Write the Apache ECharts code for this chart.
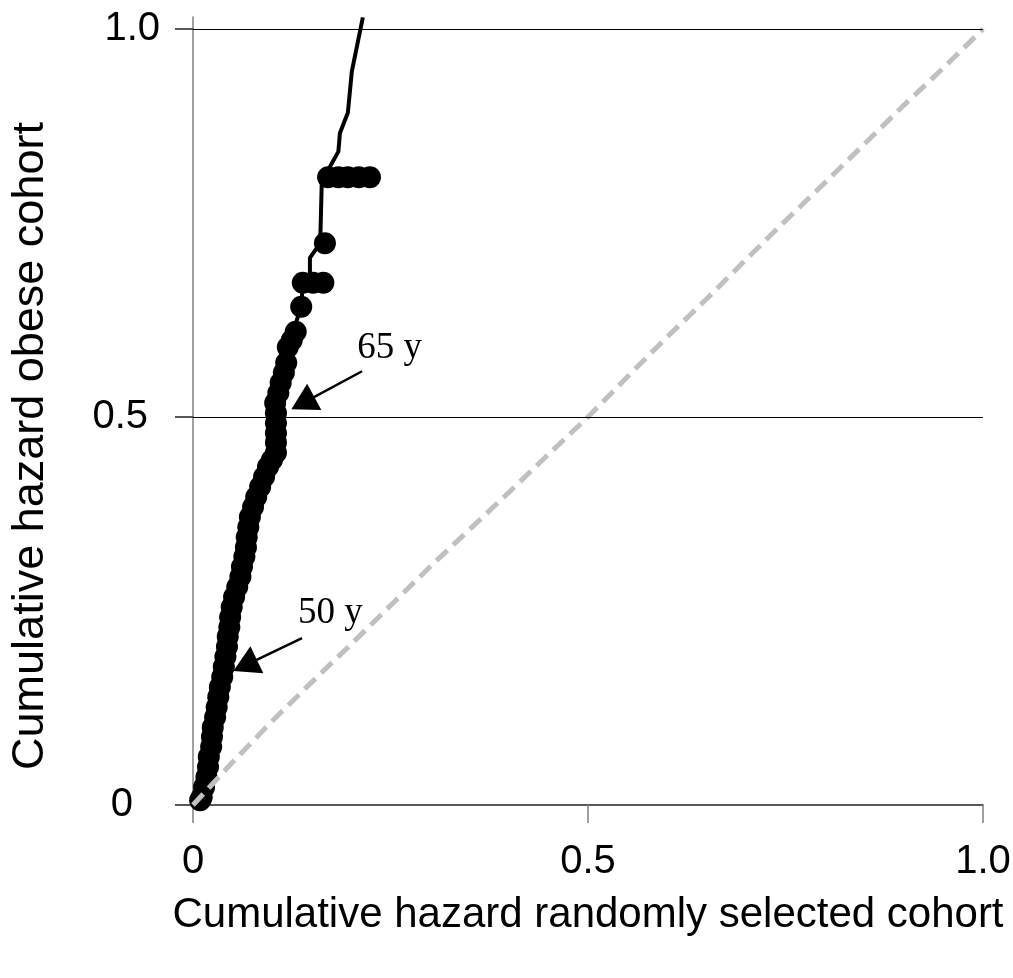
<!DOCTYPE html>
<html>
<head>
<meta charset="utf-8">
<script src="https://cdn.jsdelivr.net/npm/echarts@6/dist/echarts.min.js"></script>
<style>
html, body { margin: 0; padding: 0; background: #fff; }
#chart { width: 1013px; height: 978px; }
</style>
</head>
<body>
<div id="chart"></div>
<script>
// tick values and their printed text
const tickValues = [0, 0.5, 1]
const tickText = ['0', '0.5', '1.0']
const gridValues = [0.5, 1]

// obese cohort vs randomly selected cohort, event markers (x, y)
const obeseEvents = [
    [0.009, 0.006], [0.011, 0.010], [0.014, 0.023], [0.017, 0.036],
    [0.019, 0.049], [0.020, 0.062], [0.023, 0.075], [0.024, 0.088],
    [0.025, 0.100], [0.028, 0.113], [0.030, 0.126], [0.032, 0.139],
    [0.034, 0.152], [0.037, 0.165], [0.039, 0.178], [0.041, 0.191],
    [0.043, 0.204], [0.044, 0.217], [0.046, 0.229], [0.047, 0.242],
    [0.049, 0.255], [0.052, 0.268], [0.056, 0.281], [0.060, 0.294],
    [0.062, 0.307], [0.065, 0.320], [0.067, 0.332], [0.068, 0.345],
    [0.070, 0.358], [0.072, 0.371], [0.076, 0.384], [0.080, 0.397],
    [0.085, 0.410], [0.090, 0.423], [0.095, 0.436], [0.100, 0.445],
    [0.105, 0.454], [0.105, 0.467], [0.105, 0.479], [0.105, 0.492],
    [0.105, 0.505], [0.104, 0.518], [0.108, 0.531], [0.111, 0.544],
    [0.115, 0.557], [0.118, 0.570], [0.120, 0.590], [0.125, 0.599],
    [0.130, 0.610], [0.137, 0.642], [0.139, 0.673], [0.152, 0.673],
    [0.165, 0.673], [0.167, 0.724], [0.171, 0.809], [0.184, 0.809],
    [0.196, 0.809], [0.210, 0.809], [0.224, 0.809]
]
// obese cohort, joining line
const obeseLine = [
    [0.009, 0.006], [0.019, 0.049], [0.025, 0.100], [0.034, 0.152],
    [0.043, 0.204], [0.049, 0.255], [0.062, 0.307], [0.070, 0.358],
    [0.085, 0.410], [0.105, 0.454], [0.105, 0.505], [0.111, 0.544],
    [0.120, 0.590], [0.137, 0.642], [0.139, 0.673], [0.148, 0.673],
    [0.148, 0.705], [0.161, 0.724], [0.163, 0.802], [0.173, 0.822],
    [0.184, 0.842], [0.186, 0.866], [0.196, 0.892], [0.201, 0.945],
    [0.215, 1.015]
]
// reference line (randomly selected cohort against itself)
const randomLine = [
    [0, 0], [0.02, 0.022], [0.05, 0.055], [0.1, 0.108], [0.15, 0.158],
    [0.2, 0.207], [0.25, 0.257], [0.3, 0.307], [0.35, 0.355], [0.4, 0.403],
    [0.45, 0.452], [0.5, 0.5], [0.55, 0.552], [0.6, 0.603], [0.65, 0.652],
    [0.7, 0.703], [0.75, 0.753], [0.8, 0.802], [0.85, 0.852], [0.9, 0.902],
    [0.95, 0.95], [1, 1]
]
// age annotations: label centre, arrow start, arrow tip
const ageLabels = ['65 y', '50 y']
const labelPos = [[0.249, 0.588], [0.174, 0.247]]
const arrowFrom = [[0.214, 0.559], [0.138, 0.215]]
const arrowTo = [[0.139, 0.518], [0.066, 0.180]]

const chart = echarts.init(document.getElementById('chart'))

const tickFont = { fontSize: 40, fontFamily: 'Liberation Sans', color: '#000' }
const labelRich = {
    p0: Object.assign({ padding: [0, 27, 0, 0] }, tickFont),
    p1: Object.assign({ padding: [0, 12, 0, 0] }, tickFont),
    p2: Object.assign({}, tickFont)
}

const option = {
    animation: false,
    backgroundColor: '#fff',
    grid: { left: 193, right: 30, top: 17, bottom: 173, containLabel: false, outerBoundsMode: 'none' },
    xAxis: {
        type: 'value',
        min: 0,
        max: 1,
        interval: 0.5,
        name: 'Cumulative hazard randomly selected cohort',
        nameLocation: 'middle',
        nameGap: 89,
        nameTextStyle: { fontSize: 42, fontFamily: 'Liberation Sans', color: '#000' },
        axisLine: { lineStyle: { color: '#222', width: 1.5 } },
        axisTick: { show: true, length: 18, lineStyle: { color: '#808080', width: 1.5 } },
        axisLabel: {
            margin: 37,
            fontSize: 40,
            fontFamily: 'Liberation Sans',
            color: '#000',
            formatter: v => tickText[tickValues.indexOf(v)] || ''
        },
        splitLine: { show: false }
    },
    yAxis: {
        type: 'value',
        min: 0,
        max: 1.0155,
        name: 'Cumulative hazard obese cohort',
        nameLocation: 'middle',
        nameGap: 140,
        nameTextStyle: { fontSize: 45, fontFamily: 'Liberation Sans', color: '#000', padding: [0, 70, 0, 0] },
        axisLine: { show: true, lineStyle: { color: '#808080', width: 1.5 } },
        axisTick: { show: true, length: 18, customValues: tickValues, lineStyle: { color: '#222', width: 1.5 } },
        axisLabel: {
            margin: 33,
            customValues: tickValues,
            formatter: v => {
                const i = tickValues.indexOf(v)
                return '{p' + i + '|' + tickText[i] + '}'
            },
            rich: labelRich
        },
        splitLine: { show: false }
    },
    series: [
        {
            name: 'obese line',
            type: 'line',
            data: obeseLine,
            showSymbol: false,
            clip: false,
            lineStyle: { color: '#000', width: 4 },
            markLine: {
                silent: true,
                symbol: 'none',
                label: { show: false },
                lineStyle: { color: '#000', width: 1.2, type: 'solid' },
                data: gridValues.map(v => ({ yAxis: v }))
            }
        },
        {
            name: 'obese events',
            type: 'scatter',
            data: obeseEvents,
            symbol: 'circle',
            symbolSize: 22,
            itemStyle: { color: '#000', opacity: 1 }
        },
        {
            name: 'random',
            type: 'line',
            data: randomLine,
            showSymbol: false,
            lineStyle: { color: '#c0c0c0', width: 5, type: [15, 8] },
            markLine: {
                silent: true,
                symbol: ['none', 'triangle'],
                symbolSize: [30, 26],
                label: { show: false },
                lineStyle: { color: '#000', width: 2.5, type: 'solid', opacity: 1 },
                itemStyle: { color: '#000', opacity: 1 },
                data: arrowFrom.map((p, i) => [
                    { coord: p },
                    { coord: arrowTo[i] }
                ])
            }
        },
        {
            name: 'ages',
            type: 'scatter',
            data: labelPos.map((p, i) => [p[0], p[1], ageLabels[i]]),
            symbolSize: 0,
            itemStyle: { opacity: 1 },
            label: {
                show: true,
                position: 'inside',
                formatter: p => p.data[2],
                fontSize: 37,
                fontFamily: 'Liberation Serif',
                color: '#000'
            }
        }
    ]
}

chart.setOption(option)
</script>
</body>
</html>
